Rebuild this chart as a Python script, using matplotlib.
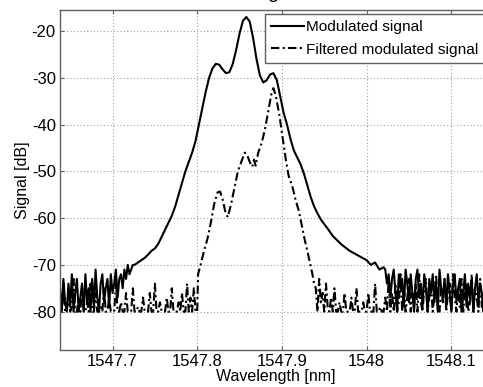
import numpy as np
import matplotlib
matplotlib.use("Agg")
import matplotlib.pyplot as plt

plt.rcParams["font.family"] = ["Liberation Sans", "DejaVu Sans"]
plt.rcParams["axes.unicode_minus"] = False

# ---- data -----------------------------------------------------------------
# noise floor of the modulated signal (left / right of the main lobe)
mod_left_range = (1547.638, 1547.724)
mod_left_noise = [-75, -80, -73, -78, -80, -74, -79, -72, -80, -76, -73, -80, -77, -74, -80,
                  -72, -78, -75, -80, -73, -79, -71, -77, -80, -74, -72, -78, -75, -73, -79,
                  -72, -76, -74, -71, -77, -73, -72, -75, -71, -73, -70, -72, -71, -70]

mod_lobe_wl = [1547.726, 1547.730, 1547.734, 1547.738, 1547.742, 1547.746, 1547.750, 1547.754,
               1547.758, 1547.762, 1547.766, 1547.770, 1547.774, 1547.778, 1547.782, 1547.786,
               1547.790, 1547.794, 1547.798, 1547.802, 1547.806, 1547.810, 1547.814, 1547.818,
               1547.822, 1547.826, 1547.830, 1547.834, 1547.838, 1547.842, 1547.846, 1547.850,
               1547.854, 1547.858, 1547.862, 1547.866, 1547.870, 1547.874, 1547.878, 1547.882,
               1547.886, 1547.890, 1547.894, 1547.898, 1547.902, 1547.906, 1547.910, 1547.914,
               1547.918, 1547.922, 1547.926, 1547.930, 1547.934, 1547.938, 1547.942, 1547.946,
               1547.950, 1547.955, 1547.960, 1547.965, 1547.970, 1547.975, 1547.980, 1547.985,
               1547.990, 1547.995, 1548.000, 1548.005, 1548.010, 1548.015, 1548.020]
mod_lobe_db = [-70.0, -69.5, -69.0, -68.5, -67.8, -67.0, -66.5, -65.5,
               -64.0, -62.5, -61.0, -59.5, -57.5, -55.0, -52.5, -50.0,
               -48.0, -46.0, -43.5, -40.0, -36.5, -33.0, -30.0, -28.0,
               -27.0, -27.2, -28.2, -29.0, -28.8, -27.0, -24.0, -20.5,
               -17.8, -17.0, -18.0, -21.5, -26.0, -29.5, -31.0, -30.5,
               -29.3, -29.0, -30.5, -34.0, -37.5, -40.0, -43.0, -45.5,
               -47.0, -48.5, -50.5, -53.0, -55.5, -57.5, -59.0, -60.3,
               -61.3, -62.5, -63.8, -64.7, -65.6, -66.3, -67.0, -67.5,
               -68.0, -68.5, -69.0, -70.0, -69.5, -71.0, -70.5]

mod_right_range = (1548.022, 1548.150)
mod_right_noise = [-71, -74, -72, -77, -73, -71, -76, -80, -72, -75, -73, -79, -71, -74, -78,
                   -72, -76, -80, -73, -71, -77, -74, -79, -72, -75, -80, -73, -76, -72, -78,
                   -74, -80, -71, -75, -77, -73, -79, -72, -76, -80, -74, -72, -78, -75, -73,
                   -80, -76, -72, -79, -74, -77, -73, -80, -75, -72, -78, -74, -76, -80, -73,
                   -77, -75, -79, -74, -76]

# filtered modulated signal
flt_left_range = (1547.638, 1547.798)
flt_left_noise = [-78, -80, -74, -80, -80, -76, -80, -79, -73, -80, -80, -77, -80, -75, -80,
                  -80, -78, -80, -74, -80, -80, -76, -80, -80, -79, -80, -75, -80, -80, -77,
                  -80, -80, -80, -74, -80, -80, -78, -80, -80, -76, -80, -80, -80, -75, -80,
                  -80, -79, -80, -80, -77, -80, -80, -80, -76, -80, -80, -74, -80, -80, -78,
                  -80, -80, -80, -77, -80, -80, -75, -80, -80, -80, -78, -80, -76, -80, -80,
                  -74, -80, -77, -80, -75, -80]

flt_lobe_wl = [1547.800, 1547.801, 1547.804, 1547.808, 1547.812, 1547.816, 1547.820, 1547.824,
               1547.827, 1547.830, 1547.833, 1547.836, 1547.840, 1547.844, 1547.848, 1547.852,
               1547.856, 1547.859, 1547.862, 1547.865, 1547.867, 1547.869, 1547.872, 1547.876,
               1547.880, 1547.884, 1547.888, 1547.890, 1547.893, 1547.897, 1547.901, 1547.905,
               1547.908, 1547.912, 1547.916, 1547.920, 1547.924, 1547.927, 1547.930, 1547.933,
               1547.936, 1547.938]
flt_lobe_db = [-80.0, -72.0, -70.0, -67.0, -64.5, -61.0, -57.0, -54.5,
               -54.3, -56.0, -58.5, -59.8, -57.0, -53.5, -50.0, -48.0,
               -46.0, -46.5, -48.0, -49.0, -47.5, -48.8, -46.0, -44.0,
               -41.0, -37.0, -33.0, -32.2, -34.0, -38.0, -43.0, -48.0,
               -51.0, -53.0, -56.0, -58.5, -62.0, -64.7, -67.0, -69.5,
               -72.0, -74.0]

flt_right_range = (1547.940, 1548.150)
flt_right_noise = [-75, -80, -73, -78, -76, -80, -74, -79, -80, -77, -80, -75, -80, -80, -78,
                   -80, -80, -76, -80, -80, -80, -77, -80, -80, -75, -80, -80, -80, -78, -80,
                   -80, -76, -80, -80, -80, -74, -80, -80, -79, -80, -80, -77, -80, -73, -80,
                   -76, -80, -74, -80, -78, -72, -80, -75, -80, -77, -73, -80, -76, -79, -74,
                   -80, -72, -78, -80, -75, -73, -80, -77, -74, -80, -76, -72, -79, -80, -75,
                   -78, -73, -80, -76, -74, -80, -72, -77, -80, -75, -79, -73, -80, -76, -74,
                   -80, -78, -72, -80, -75, -77, -80, -73, -79, -76, -80, -74, -78, -80, -75,
                   -77]

x_ticks = [1547.7, 1547.8, 1547.9, 1548.0, 1548.1]
x_ticklabels = ["1547.7", "1547.8", "1547.9", "1548", "1548.1"]
y_ticks = [-80, -70, -60, -50, -40, -30, -20]


def trace(left_range, left_noise, lobe_wl, lobe_db, right_range, right_noise):
    wl = np.concatenate([np.linspace(*left_range, len(left_noise)), lobe_wl,
                         np.linspace(*right_range, len(right_noise))])
    db = np.concatenate([left_noise, lobe_db, right_noise])
    return wl, db


mod_wl, mod_db = trace(mod_left_range, mod_left_noise, mod_lobe_wl, mod_lobe_db,
                       mod_right_range, mod_right_noise)
flt_wl, flt_db = trace(flt_left_range, flt_left_noise, flt_lobe_wl, flt_lobe_db,
                       flt_right_range, flt_right_noise)

# ---- figure ---------------------------------------------------------------
W, H = 483, 387
fig = plt.figure(figsize=(W / 100, H / 100), dpi=100)
# axes run past the right border, the way the exported figure was cropped
ax = fig.add_axes([60 / W, 1 - 350 / H, (492 - 60) / W, 340 / H])

ax.plot(mod_wl, mod_db, color="black", lw=1.5, label="Modulated signal")
ax.plot(flt_wl, flt_db, color="black", lw=1.5, linestyle=(0, (4, 1.6, 1, 1.6)),
        label="Filtered modulated signal")

ax.set_xlim(1547.638, 1548.148)
ax.set_ylim(-88.2, -15.5)
ax.set_xticks(x_ticks)
ax.set_xticklabels(x_ticklabels)
ax.set_yticks(y_ticks)
ax.tick_params(direction="in", length=3, width=0.8, color="#606060",
               top=True, right=True, labelsize=12, pad=3)
ax.grid(True, linestyle=(0, (1, 2)), color="#a0a0a0", lw=0.8)
for sp in ax.spines.values():
    sp.set_color("#606060")
    sp.set_linewidth(1.0)

ax.set_xlabel("Wavelength [nm]", fontsize=11.5, labelpad=0)
ax.set_ylabel("Signal [dB]", fontsize=11.5, labelpad=1)

leg = fig.legend(loc="upper left", bbox_to_anchor=(265 / W, 1 - 14 / H),
                 fontsize=11.1, frameon=True, fancybox=False, framealpha=1,
                 edgecolor="#606060", handlelength=2.1, handletextpad=0.15,
                 borderpad=0.4, labelspacing=0.55, borderaxespad=0)
leg.get_frame().set_linewidth(1.0)

# tail of the title line, mostly above the top edge
fig.text(273 / W, 1 + 1.5 / H, "g", fontsize=14, ha="center", va="baseline")

fig.savefig("out.png", dpi=100)
